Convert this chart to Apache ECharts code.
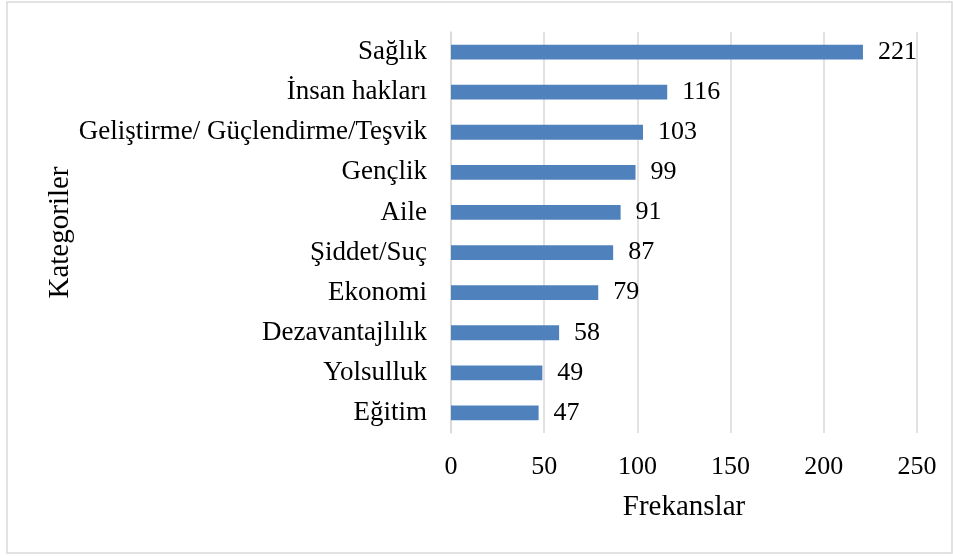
<!DOCTYPE html>
<html>
<head>
<meta charset="utf-8">
<script src="https://cdn.jsdelivr.net/npm/echarts@6/dist/echarts.min.js"></script>
<style>
  html, body { margin: 0; padding: 0; background: #fff; }
  #chart { width: 953px; height: 556px; }
</style>
</head>
<body>
<div id="chart"></div>
<script>
const categories = ['Sağlık', 'İnsan hakları', 'Geliştirme/ Güçlendirme/Teşvik', 'Gençlik', 'Aile',
    'Şiddet/Suç', 'Ekonomi', 'Dezavantajlılık', 'Yolsulluk', 'Eğitim'];
const frequencies = [221, 116, 103, 99, 91, 87, 79, 58, 49, 47];
const xTicks = [0, 50, 100, 150, 200, 250];

const font = '"Liberation Serif", "Times New Roman", serif';

const myChart = echarts.init(document.getElementById('chart'));

const option = {
    animation: false,
    backgroundColor: '#fff',
    textStyle: { fontFamily: font, color: '#000' },
    graphic: [{
        type: 'rect',
        shape: { x: 7, y: 2, width: 945, height: 551 },
        style: { fill: 'none', stroke: '#D9D9D9', lineWidth: 1.5 }
    }],
    grid: { left: 451, right: 36, top: 32, bottom: 123 },
    xAxis: {
        type: 'value',
        min: xTicks[0],
        max: xTicks[xTicks.length - 1],
        interval: 50,
        name: 'Frekanslar',
        nameLocation: 'middle',
        nameGap: 60,
        nameTextStyle: { fontFamily: font, fontSize: 29, color: '#000' },
        axisLine: { show: false },
        axisTick: { show: false },
        axisLabel: { fontFamily: font, fontSize: 26, color: '#000', margin: 21 },
        splitLine: { lineStyle: { color: '#D9D9D9', width: 1.5 } }
    },
    yAxis: {
        type: 'category',
        inverse: true,
        data: categories,
        name: 'Kategoriler',
        nameLocation: 'middle',
        nameGap: 374,
        nameRotate: 90,
        nameTextStyle: { fontFamily: font, fontSize: 29, color: '#000' },
        axisLine: { show: true, lineStyle: { color: '#D9D9D9', width: 1.5 } },
        axisTick: { show: false },
        axisLabel: { fontFamily: font, fontSize: 27, color: '#000', margin: 24 }
    },
    series: [{
        type: 'bar',
        data: frequencies,
        barWidth: '37%',
        itemStyle: { color: '#4F81BD' },
        label: {
            show: true,
            position: 'right',
            distance: 15,
            fontFamily: font,
            fontSize: 26,
            color: '#000'
        }
    }]
};

myChart.setOption(option);
</script>
</body>
</html>
